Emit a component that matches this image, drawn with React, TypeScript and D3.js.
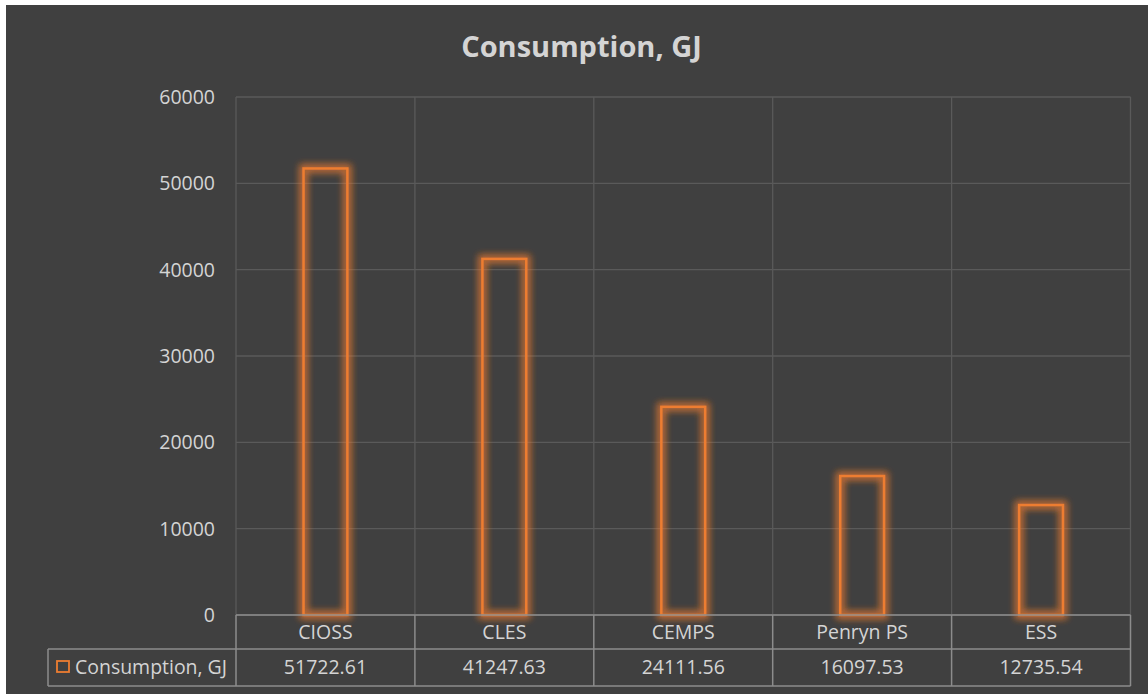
import React from "react";
import * as d3 from "d3";

const categories = ["CIOSS", "CLES", "CEMPS", "Penryn PS", "ESS"];
const values = [51722.61, 41247.63, 24111.56, 16097.53, 12735.54];
const valueLabels = ["51722.61", "41247.63", "24111.56", "16097.53", "12735.54"];
const yTicks = [0, 10000, 20000, 30000, 40000, 50000, 60000];
const seriesName = "Consumption, GJ";
const title = "Consumption, GJ";

const W = 1148;
const H = 694;
const left = 236;
const right = 1130.5;
const top = 97;
const bottom = 615;
const row1 = 649;
const row2 = 686;
const legendLeft = 48;

const FONT = "'Open Sans', Lato, sans-serif";
const ORANGE = "#ED7D31";
const TEXT = "#d4d4d4";
const GRID = "#5a5a5a";
const TABLE = "#8c8c8c";
const FS = 19.5;

export default function App() {
  const x = d3.scaleBand<string>().domain(categories).range([left, right]).paddingInner(0).paddingOuter(0);
  const y = d3.scaleLinear().domain([0, 60000]).range([bottom, top]);
  const bw = x.bandwidth() * 0.245;

  return (
    <svg width={W} height={H} style={{ position: "absolute", left: 0, top: 0, display: "block" }}>
      <defs>
        <filter id="glow" x="-50%" y="-10%" width="200%" height="120%">
          <feGaussianBlur in="SourceGraphic" stdDeviation="3.5" result="b" />
          <feMerge>
            <feMergeNode in="b" />
            <feMergeNode in="b" />
          </feMerge>
        </filter>
      </defs>
      <rect x={0} y={0} width={W} height={H} fill="#ffffff" />
      <rect x={6} y={5} width={W - 6} height={H - 5} fill="#404040" />
      <text x={581.5} y={57} fill={TEXT} fontFamily={FONT} fontWeight="bold" fontSize={29} textAnchor="middle">{title}</text>

      {yTicks.map((t) => (
        <line key={"h" + t} x1={left} x2={right} y1={y(t)} y2={y(t)} stroke={GRID} strokeWidth={1.3} />
      ))}
      {categories.map((c) => (
        <line key={"v" + c} x1={x(c)!} x2={x(c)!} y1={top} y2={bottom} stroke={GRID} strokeWidth={1.3} />
      ))}
      <line x1={right} x2={right} y1={top} y2={bottom} stroke={GRID} strokeWidth={1.3} />

      {yTicks.map((t) => (
        <text key={"t" + t} x={215} y={y(t) + 7} fill={TEXT} fontFamily={FONT} fontSize={FS} textAnchor="end">{t}</text>
      ))}

      {categories.map((c, i) => {
        const cx = x(c)! + x.bandwidth() / 2;
        const bx = cx - bw / 2;
        const by = y(values[i]);
        const h = y(0) - by;
        return (
          <g key={"b" + c}>
            <rect x={bx} y={by} width={bw} height={h} fill="none" stroke={ORANGE} strokeOpacity={0.45} strokeWidth={8} filter="url(#glow)" />
            <rect x={bx} y={by} width={bw} height={h} fill="none" stroke={ORANGE} strokeWidth={2.5} />
          </g>
        );
      })}

      <line x1={left} x2={right} y1={bottom} y2={bottom} stroke={TABLE} strokeWidth={1.5} />
      <line x1={legendLeft} x2={right} y1={row1} y2={row1} stroke={TABLE} strokeWidth={1.5} />
      <line x1={legendLeft} x2={right} y1={row2} y2={row2} stroke={TABLE} strokeWidth={1.5} />
      <line x1={legendLeft} x2={legendLeft} y1={row1} y2={row2} stroke={TABLE} strokeWidth={1.5} />
      {categories.map((c) => (
        <line key={"tv" + c} x1={x(c)!} x2={x(c)!} y1={bottom} y2={row2} stroke={TABLE} strokeWidth={1.5} />
      ))}
      <line x1={right} x2={right} y1={bottom} y2={row2} stroke={TABLE} strokeWidth={1.5} />
      {categories.map((c, i) => {
        const cx = x(c)! + x.bandwidth() / 2;
        return (
          <g key={"tc" + c}>
            <text x={cx} y={639} fill={TEXT} fontFamily={FONT} fontSize={FS} textAnchor="middle">{c}</text>
            <text x={cx} y={674} fill={TEXT} fontFamily={FONT} fontSize={FS} textAnchor="middle">{valueLabels[i]}</text>
          </g>
        );
      })}
      <rect x={57} y={661} width={12} height={11} fill="none" stroke={ORANGE} strokeWidth={1.8} />
      <text x={75} y={674} fill={TEXT} fontFamily={FONT} fontSize={FS} textLength={152} lengthAdjust="spacingAndGlyphs">{seriesName}</text>
    </svg>
  );
}
